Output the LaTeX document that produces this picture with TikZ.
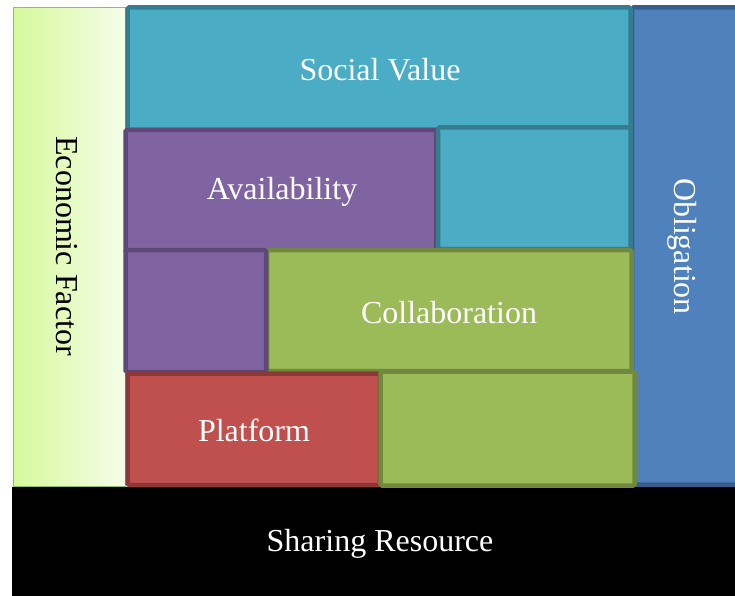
\documentclass[tikz,border=0pt]{standalone}
\usepackage{fontspec}
\setmainfont{Liberation Serif}
\begin{document}
\begin{tikzpicture}[x=1pt,y=-1pt,
  tile/.style={line width=4.5pt, rounded corners=1.5pt},
  teal/.style={tile, fill={rgb,255:red,75;green,172;blue,198}, draw={rgb,255:red,53;green,124;blue,143}},
  violet/.style={tile, fill={rgb,255:red,128;green,100;blue,162}, draw={rgb,255:red,94;green,72;blue,120}},
  leaf/.style={tile, fill={rgb,255:red,155;green,187;blue,89}, draw={rgb,255:red,113;green,137;blue,63}},
  brick/.style={tile, fill={rgb,255:red,192;green,80;blue,77}, draw={rgb,255:red,140;green,56;blue,54}},
  ocean/.style={tile, fill={rgb,255:red,79;green,129;blue,189}, draw={rgb,255:red,56;green,93;blue,138}},
  lbl/.style={text=white, font=\fontsize{32}{38}\selectfont, inner sep=0pt},
  dlbl/.style={text=black, font=\fontsize{32}{38}\selectfont, inner sep=0pt}]
\clip (0,0) rectangle (735,596);
\fill[white] (0,0) rectangle (735,596);

% economic factor column with a light green gradient
\path[left color={rgb,255:red,214;green,249;blue,155}, right color={rgb,255:red,245;green,253;blue,233},
      draw={rgb,255:red,155;green,187;blue,89}, line width=1pt]
  (13,7.5) rectangle (125.5,486);
\node[dlbl, rotate=-90] (econ) at (67,246) {Economic Factor};

% obligation column on the right
\path[ocean] (632,7.5) rectangle (745,484.5);
\node[lbl, rotate=-90] (oblig) at (682,246.5) {Obligation};

% base bar
\fill[black] (11.5,486.5) rectangle (735,596);
\node[lbl] (share) at (380,544) {Sharing Resource};

% stacked tiles
\path[teal] (127.5,7.5) rectangle (630.5,130);
\node[lbl] (social) at (380,70) {Social Value};

\path[violet] (125.5,130) rectangle (436,252);
\node[lbl] (avail) at (282,192) {Availability};

\path[teal] (438,127.5) rectangle (630.5,249);

\path[leaf] (267,250) rectangle (631.5,371);
\node[lbl] (collab) at (449,313) {Collaboration};

\path[violet] (125.5,250) rectangle (266,372);

\path[brick] (127.5,373.5) rectangle (380,485);
\node[lbl] (plat) at (254,430) {Platform};

\path[leaf] (380.5,371.5) rectangle (634.5,485.5);
\end{tikzpicture}
\end{document}
